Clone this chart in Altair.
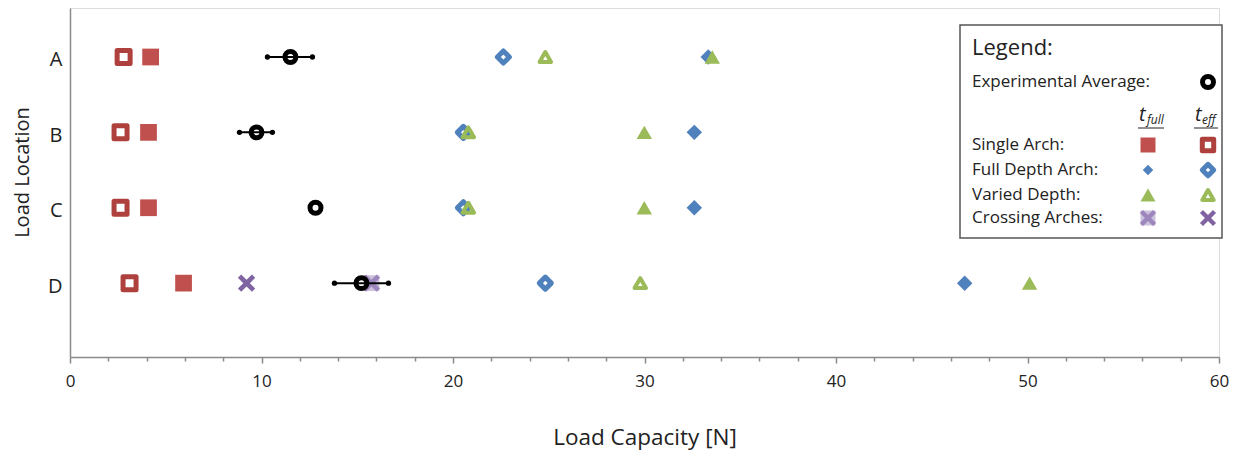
import altair as alt
import pandas as pd

# ---------------- data ----------------
locations = ["A", "B", "C", "D"]

single_full = [4.21, 4.10, 4.10, 5.93]
single_eff = [2.80, 2.64, 2.64, 3.11]
fulldepth_full = [33.33, 32.60, 32.60, 46.72]
fulldepth_eff = [22.63, 20.54, 20.54, 24.82]
varied_full = [33.54, 29.99, 29.99, 50.11]
varied_eff = [24.82, 20.80, 20.80, 29.78]
crossing_full = [None, None, None, 15.74]
crossing_eff = [None, None, None, 9.22]
exp_avg = [11.51, 9.74, 12.82, 15.22]
exp_lo = [10.31, 8.85, None, 13.81]
exp_hi = [12.66, 10.57, None, 16.63]

x_ticks = list(range(0, 61, 2))

legend_rows = ["Single Arch:", "Full Depth Arch:", "Varied Depth:", "Crossing Arches:"]

# ---------------- layout / style ----------------
W, H = 1149, 349
Y_DOMAIN = [-0.65, 3.98]
FONT = "Open Sans"
RED, DRED = "#C0504D", "#AE403D"
BLUE, GREEN = "#4F81BD", "#9BBB59"
PURPLE, PURPLE_L, LAVENDER = "#8064A2", "#9C86BC", "#CDC2DE"
XPATH = ("M-1,-0.62L-0.62,-1L0,-0.38L0.62,-1L1,-0.62L0.38,0L1,0.62L0.62,1"
         "L0,0.38L-0.62,1L-1,0.62L-0.38,0Z")
TRI = "M0,-0.866L1,0.866L-1,0.866Z"

STYLE = {
    "single_eff": dict(shape="square", filled=False, color=DRED, size=169, strokeWidth=5, strokeJoin="round"),
    "single_full": dict(shape="square", filled=True, color=RED, size=280),
    "fd_eff": dict(shape="diamond", filled=False, color=BLUE, size=144, strokeWidth=5, strokeJoin="round"),
    "fd_full": dict(shape="diamond", filled=True, color=BLUE, size=240),
    "vd_eff": dict(shape=TRI, filled=False, color=GREEN, size=132, strokeWidth=4, strokeJoin="round"),
    "vd_full": dict(shape=TRI, filled=True, color=GREEN, size=240),
    "cr_eff": dict(shape=XPATH, filled=True, color=PURPLE, size=300),
    "cr_full_bg": dict(shape="square", filled=True, color=LAVENDER, size=250),
    "cr_full": dict(shape=XPATH, filled=True, color=PURPLE_L, size=300),
    "exp": dict(shape="circle", filled=False, color="black", size=120, strokeWidth=5),
}

series_values = {
    "single_eff": single_eff,
    "single_full": single_full,
    "fd_eff": fulldepth_eff,
    "fd_full": fulldepth_full,
    "vd_eff": varied_eff,
    "vd_full": varied_full,
    "cr_eff": crossing_eff,
    "cr_full_bg": crossing_full,
    "cr_full": crossing_full,
}

rows = []
for name, vals in series_values.items():
    for i, v in enumerate(vals):
        if v is not None:
            rows.append({"series": name, "loc": locations[i], "yv": i, "x": v})
df = pd.DataFrame(rows)

exp_df = pd.DataFrame({"loc": locations, "yv": list(range(len(locations))),
                       "x": exp_avg, "lo": exp_lo, "hi": exp_hi})
err_df = exp_df.dropna(subset=["lo", "hi"])

label_expr = "['" + "','".join(locations) + "'][datum.value]"

x_axis = alt.Axis(
    values=x_ticks,
    labelExpr="datum.value % 10 === 0 ? datum.label : ''",
    tickSize={"condition": {"test": "datum.value % 10 === 0", "value": 6}, "value": 4},
    grid=False, domainColor="#8a8a8a", tickColor="#8a8a8a", domainWidth=1.5, tickWidth=1.5,
    labelFontSize=17, labelColor="#222", labelPadding=10, labelFont=FONT,
    labelOverlap=False, labelFlush=False,
    title="Load Capacity [N]", titleFontSize=22.5, titleFont=FONT, titleFontWeight="normal",
    titleColor="#222", titleY=87, titleBaseline="alphabetic",
)
y_axis = alt.Axis(
    values=list(range(len(locations))), labelExpr=label_expr,
    ticks=False, tickSize=0, grid=False, domainColor="#8a8a8a", domainWidth=1.5,
    labelFontSize=20, labelColor="#222", labelPadding=8, labelFont=FONT, labelOffset=3,
    title="Load Location", titleFontSize=20, titleFont=FONT, titleFontWeight="normal",
    titleColor="#222", titleX=-48, titleY=164, titleAngle=-90,
    titleAlign="center", titleBaseline="middle",
)

x_scale = alt.Scale(domain=[0, 60], nice=False, zero=False)
y_scale = alt.Scale(domain=Y_DOMAIN, reverse=True, nice=False, zero=False)


def xy(field="x"):
    return dict(x=alt.X(f"{field}:Q", scale=x_scale, axis=x_axis),
                y=alt.Y("yv:Q", scale=y_scale, axis=y_axis))


layers = []
for name in series_values:
    layers.append(
        alt.Chart(df).transform_filter(alt.datum.series == name)
        .mark_point(opacity=1, **STYLE[name]).encode(**xy())
    )

# error bars
layers.append(
    alt.Chart(err_df).mark_rule(color="black", strokeWidth=2).encode(
        x=alt.X("lo:Q", scale=x_scale, axis=x_axis), x2="hi:Q",
        y=alt.Y("yv:Q", scale=y_scale, axis=y_axis))
)
for f in ["lo", "hi"]:
    layers.append(
        alt.Chart(err_df).mark_point(shape="circle", filled=True, color="black", size=28, opacity=1)
        .encode(**xy(f))
    )
layers.append(alt.Chart(exp_df).mark_point(opacity=1, **STYLE["exp"]).encode(**xy()))

# ---------------- custom legend (pixel layout inside plot area) ----------------
dummy = alt.Data(values=[{"d": 0}])
LX0, LY0, LX1, LY1 = 890, 17, 1152, 230
layers.append(
    alt.Chart(dummy).mark_rect(fill="white", stroke="#555", strokeWidth=1.5).encode(
        x=alt.value(LX0), x2=alt.value(LX1), y=alt.value(LY0), y2=alt.value(LY1))
)


def text(t, x, y, size=18, style="normal", align="left", baseline="middle"):
    return alt.Chart(dummy).mark_text(
        text=t, font=FONT, fontSize=size, fontStyle=style, align=align,
        baseline=baseline, color="#222").encode(x=alt.value(x), y=alt.value(y))


def sym(name, x, y, **over):
    st = dict(STYLE[name])
    st.update(over)
    return alt.Chart(dummy).mark_point(opacity=1, **st).encode(x=alt.value(x), y=alt.value(y))


TX, C1, C2 = 902, 1078, 1138
layers.append(text("Legend:", TX, 40, size=22))
layers.append(text("Experimental Average:", TX, 74, size=17))
layers.append(sym("exp", C2, 74))
# column headers t_full / t_eff
layers.append(text("t", 1069, 113, size=20, style="italic", baseline="alphabetic"))
layers.append(text("full", 1077, 116, size=12, style="italic", baseline="alphabetic"))
layers.append(text("t", 1125, 113, size=20, style="italic", baseline="alphabetic"))
layers.append(text("eff", 1132, 116, size=12, style="italic", baseline="alphabetic"))
for xa, xb in [(1068, 1094), (1124, 1148)]:
    layers.append(alt.Chart(dummy).mark_rule(color="#222", strokeWidth=1).encode(
        x=alt.value(xa), x2=alt.value(xb), y=alt.value(120)))

row_y = [137, 162, 187, 210]
pairs = [("single_full", "single_eff"), ("fd_full", "fd_eff"), ("vd_full", "vd_eff"), ("cr_full", "cr_eff")]
for lab, ry, (full, eff) in zip(legend_rows, row_y, pairs):
    layers.append(text(lab, TX, ry, size=17))
    if full == "cr_full":
        layers.append(sym("cr_full_bg", C1, ry, size=225))
        layers.append(sym("cr_full", C1, ry, size=260))
    elif full == "fd_full":
        layers.append(sym(full, C1, ry, size=110))
    else:
        layers.append(sym(full, C1, ry, size=225))
    if eff == "cr_eff":
        layers.append(sym(eff, C2, ry, size=260))
    else:
        layers.append(sym(eff, C2, ry, size=130))

chart = alt.layer(*layers).properties(
    width=W, height=H,
    autosize=alt.AutoSizeParams(type="none"),
    padding={"left": 62, "top": 0, "right": 12, "bottom": 93},
).configure_view(stroke=None).configure(font=FONT)

chart.save("out.html", embed_options={"renderer": "svg", "actions": False})
